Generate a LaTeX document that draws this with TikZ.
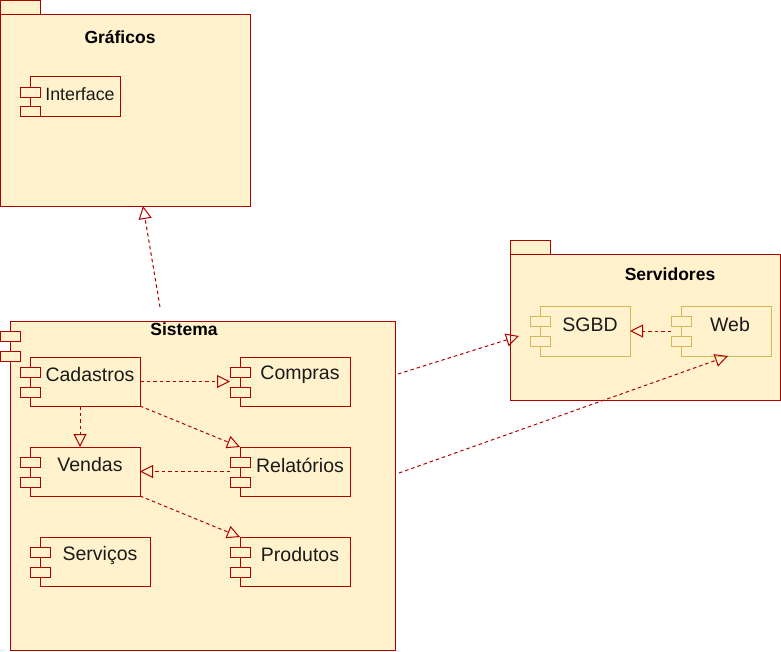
\documentclass[tikz,border=0pt]{standalone}
\usepackage{fontspec}
\setmainfont{Liberation Sans}
\usetikzlibrary{arrows.meta,calc}
\definecolor{pkgfill}{HTML}{FFF2CC}
\definecolor{pkgline}{HTML}{B20000}
\definecolor{tanline}{HTML}{D6B656}
\definecolor{txt}{HTML}{1A1A1A}
\tikzset{
  box/.style={draw=pkgline,fill=pkgfill,line width=1pt,inner sep=0pt,outer sep=0pt,rectangle},
  tan/.style={draw=tanline},
  red/.style={draw=pkgline},
  title/.style={inner sep=0pt,font=\fontsize{17.5}{20}\selectfont\bfseries,text=black},
  clabel/.style={inner sep=0pt,font=\fontsize{19.5}{22}\selectfont,text=txt},
  dep/.style={draw=pkgline,line width=1pt,dash pattern=on 3.5pt off 3pt,
    -{Triangle[open,length=13pt,width=13pt,line width=1pt]}},
}
\newcommand\umlcomp[9]{%
  \node[box,#6,minimum width={(#4-#2)*1pt},minimum height={(#5-#3)*1pt}] (#1) at ({(#2+#4)/2},{(#3+#5)/2}) {};
  \node[box,#6,minimum width=20pt,minimum height=10pt] (#1a) at (#2,#3+15) {};
  \node[box,#6,minimum width=20pt,minimum height=10pt] (#1b) at (#2,#3+35) {};
  \node[clabel] (#1t) at (#8,#9) {#7};
}
\begin{document}
\begin{tikzpicture}[x=1pt,y=-1pt]
\useasboundingbox (0,0) rectangle (781,651);
% Graficos package
\node[box,minimum width=40pt,minimum height=14pt] (grafT) at (20,7) {};
\node[box,minimum width=250pt,minimum height=192pt] (grafB) at (125,110) {};
\node[title] (grafL) at (120,37) {Gráficos};
\node[box,minimum width=90pt,minimum height=40pt] (intf) at (75,96) {};
\node[box,minimum width=20pt,minimum height=10pt] (intfa) at (30,92) {};
\node[box,minimum width=20pt,minimum height=10pt] (intfb) at (30,111) {};
\node[inner sep=0pt,font=\fontsize{17.8}{20}\selectfont,text=txt] (intft) at (80,94) {Interface};
% Servidores package
\node[box,minimum width=40pt,minimum height=14pt] (servT) at (530,247) {};
\node[box,minimum width=270pt,minimum height=146pt] (servB) at (645,327) {};
\node[title] (servL) at (670,274) {Servidores};
\umlcomp{sgbd}{540}{306}{630}{356}{tan}{SGBD}{590}{325}
\umlcomp{web}{681}{306}{771}{356}{tan}{Web}{730}{325}
% Sistema component
\umlcomp{sis}{10}{321}{395}{650}{red}{}{184}{329}
\node[title] (sisL) at (184,329) {Sistema};
\umlcomp{cad}{30}{357}{140}{406}{red}{Cadastros}{90}{375}
\umlcomp{comp}{240}{357}{350}{406}{red}{Compras}{300}{375}
\umlcomp{ven}{30}{447}{140}{496}{red}{Vendas}{90}{465}
\umlcomp{rel}{240}{447}{350}{496}{red}{Relatórios}{300}{465}
\umlcomp{serv}{40}{537}{150}{586}{red}{Serviços}{100}{555}
\umlcomp{prod}{240}{537}{350}{586}{red}{Produtos}{300}{555}
% connectors
\coordinate (sgStart) at (160,307);
\draw[dep] (sgStart) -- ([xshift=18pt]grafB.south);
\draw[dep] (cad.east) -- (cad.east -| compa.west);
\draw[dep] ([xshift=-5pt]cad.south) -- ([xshift=-5pt]ven.north);
\draw[dep] (cad.south east) -- (rel.north west);
\draw[dep] (ven.east -| rela.west) -- (ven.east);
\draw[dep] (ven.south east) -- (prod.north west);
\draw[dep] (sgbd.east -| weba.west) -- (sgbd.east);
\draw[dep] ([shift={(3,53)}]sis.north east) -- ([shift={(-11,15)}]sgbda.west);
\draw[dep] ([shift={(4,152)}]sis.north east) -- ([xshift=2pt]web.south);
\end{tikzpicture}
\end{document}
